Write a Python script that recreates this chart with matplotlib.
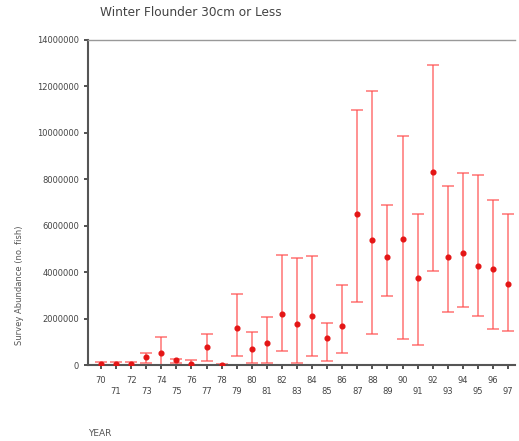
#!/usr/bin/env python3
# Winter flounder (<=30cm) survey abundance by year, with confidence bars

import numpy as np
import matplotlib
matplotlib.use('Agg')
import matplotlib.pyplot as plt

plt.rcParams['font.family'] = 'DejaVu Sans'

years = np.arange(70, 98)

# survey abundance estimates, millions of fish
mean_abund = [0.03, 0.06, 0.06, 0.34, 0.53, 0.20, 0.05, 0.76, 0.02, 1.58,
              0.68, 0.93, 2.20, 1.75, 2.11, 1.18, 1.68, 6.51, 5.37, 4.64,
              5.42, 3.76, 8.30, 4.64, 4.83, 4.27, 4.15, 3.49]
upper_abund = [0.15, 0.15, 0.15, 0.52, 1.20, 0.27, 0.20, 1.34, 0.05, 3.05,
               1.44, 2.08, 4.75, 4.60, 4.70, 1.82, 3.45, 11.00, 11.80, 6.88,
               9.88, 6.52, 12.93, 7.69, 8.25, 8.19, 7.11, 6.52]
lower_abund = [0.00, 0.00, 0.00, 0.10, 0.00, 0.10, 0.00, 0.17, 0.00, 0.39,
               0.10, 0.10, 0.62, 0.08, 0.39, 0.17, 0.50, 2.73, 1.34, 2.97,
               1.10, 0.86, 4.06, 2.30, 2.50, 2.11, 1.56, 1.48]

y_ticks = [0, 2000000, 4000000, 6000000, 8000000, 10000000, 12000000, 14000000]

mean = np.array(mean_abund) * 1e6
upper = np.array(upper_abund) * 1e6
lower = np.array(lower_abund) * 1e6

fig = plt.figure(figsize=(5.19, 4.41), dpi=100)
ax = fig.add_axes([0.1696, 0.1723, 0.8227, 0.737])

ax.errorbar(years, mean, yerr=[mean - lower, upper - mean], fmt='none',
            ecolor='#ff4a4a', alpha=0.7, elinewidth=1.2, capsize=4, capthick=1.2)
ax.plot(years, mean, 'o', color='#e41515', markersize=3.4, zorder=5)

ax.set_xlim(69.14, 97.46)
ax.set_ylim(0, 14000000)

ax.set_yticks(y_ticks)
ax.set_yticklabels([str(v) for v in y_ticks])
ax.set_xticks(years)
# odd years drop to a second row
ax.set_xticklabels([str(y) if y % 2 == 0 else '\n' + str(y) for y in years])
ax.tick_params(axis='both', labelsize=6, colors='#333333', length=3, width=1.2,
               labelcolor='#444444')
ax.tick_params(axis='x', pad=5)

for side in ['left', 'bottom']:
    ax.spines[side].set_color('#555555')
    ax.spines[side].set_linewidth(1.5)
ax.spines['top'].set_color('#999999')
ax.spines['top'].set_linewidth(1.0)
ax.spines['right'].set_visible(False)

fig.text(100 / 519, 1 - 13 / 441, 'Winter Flounder 30cm or Less', fontsize=8.7,
         color='#444444', ha='left', va='center')
fig.text(20 / 519, 1 - 285 / 441, 'Survey Abundance (no. fish)', fontsize=6,
         color='#555555', rotation=90, ha='center', va='center')
fig.text(88 / 519, 1 - 433 / 441, 'YEAR', fontsize=6.5, color='#555555',
         ha='left', va='center')

plt.savefig('out.png', dpi=100)
plt.close()
